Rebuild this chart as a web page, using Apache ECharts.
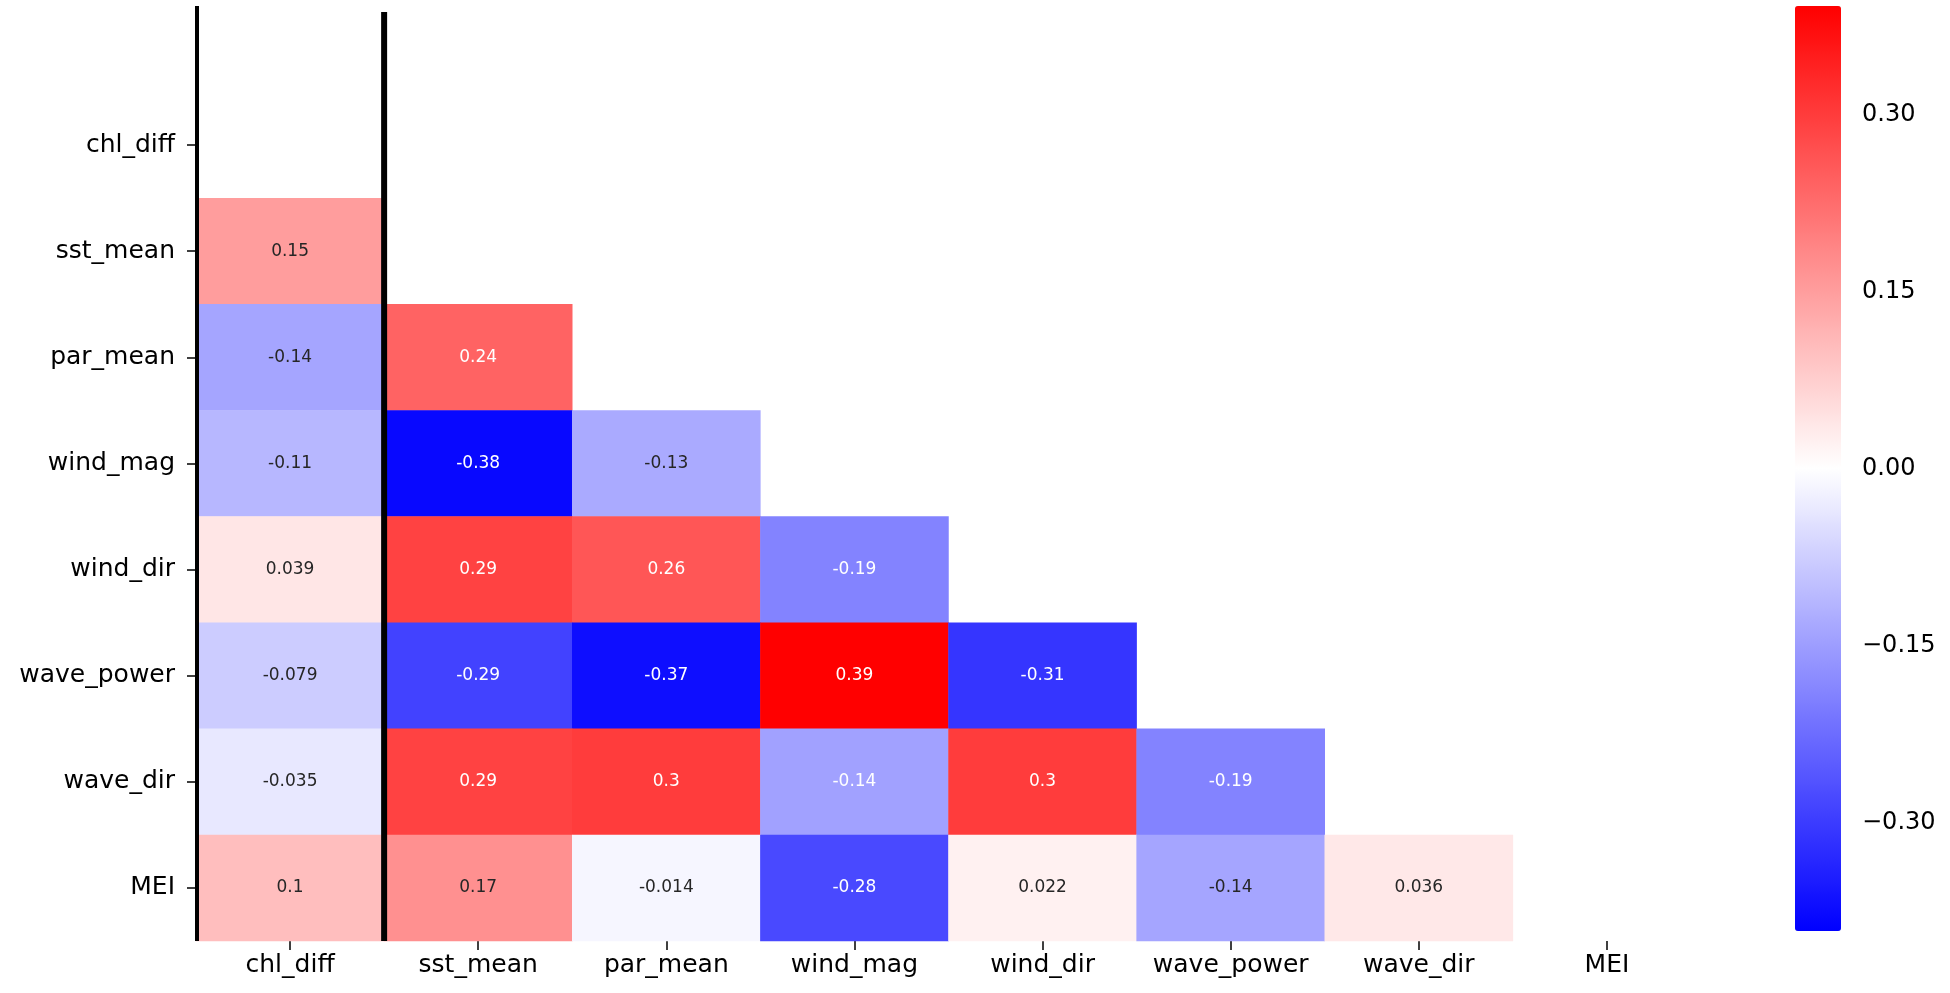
<!DOCTYPE html>
<html><head><meta charset="utf-8">
<script src="https://cdn.jsdelivr.net/npm/echarts@6/dist/echarts.min.js"></script>
<style>html,body{margin:0;padding:0;background:#fff}#c{width:1950px;height:993px}</style>
</head><body><div id="c"></div>
<script>
// ---- data ----
const variables = ['chl_diff','sst_mean','par_mean','wind_mag','wind_dir','wave_power','wave_dir','MEI'];
const row_chl_diff   = [];
const row_sst_mean   = [0.15];
const row_par_mean   = [-0.138, 0.24];
const row_wind_mag   = [-0.11, -0.38, -0.13];
const row_wind_dir   = [0.039, 0.29, 0.26, -0.19];
const row_wave_power = [-0.079, -0.29, -0.37, 0.392, -0.31];
const row_wave_dir   = [-0.035, 0.29, 0.30, -0.144, 0.30, -0.19];
const row_MEI        = [0.10, 0.17, -0.014, -0.28, 0.022, -0.138, 0.036];
const colorbarTicks  = [-0.30, -0.15, 0.00, 0.15, 0.30];
const vmin = -0.392, vmax = 0.392;

const rows = [row_chl_diff,row_sst_mean,row_par_mean,row_wind_mag,row_wind_dir,row_wave_power,row_wave_dir,row_MEI];

// bwr colormap → text colour by luminance (as seaborn does)
function bwr(v){
  const t=(v-vmin)/(vmax-vmin);
  if(t<0.5){const s=t/0.5;return [s,s,1];}
  const s=1-(t-0.5)/0.5;return [1,s,s];
}
function lin(c){return c<=0.03928?c/12.92:Math.pow((c+0.055)/1.055,2.4);}
function textColor(v){
  const [r,g,b]=bwr(v);
  const L=0.2126*lin(r)+0.7152*lin(g)+0.0722*lin(b);
  return L>0.408?'#262626':'#ffffff';
}
function fmt(v){return String(Number(v.toPrecision(2)));}

const data=[];
rows.forEach((vals,r)=>vals.forEach((v,c)=>{
  data.push({value:[c,r,v],label:{color:textColor(v)}});
}));

const FONT='DejaVu Sans';
const chart=echarts.init(document.getElementById('c'),null,{renderer:'canvas'});
chart.setOption({
  backgroundColor:'#ffffff',
  animation:false,
  textStyle:{fontFamily:FONT},
  grid:[
    {left:196,top:92,width:1505,height:849},
    {left:1795,top:6,width:46,height:925}
  ],
  xAxis:[
    {type:'category',gridIndex:0,data:variables,
     axisLine:{show:false},
     axisTick:{show:true,alignWithLabel:true,interval:0,length:9,lineStyle:{color:'#000',width:1.5}},
     axisLabel:{interval:0,fontSize:25,color:'#000',margin:12,fontFamily:FONT},
     splitLine:{show:false},splitArea:{show:false}},
    {type:'value',gridIndex:1,show:false,min:0,max:1}
  ],
  yAxis:[
    {type:'category',gridIndex:0,data:variables,inverse:true,
     axisLine:{show:false},
     axisTick:{show:true,alignWithLabel:true,interval:0,length:9,lineStyle:{color:'#000',width:1.5}},
     axisLabel:{interval:0,fontSize:25,color:'#000',margin:21,fontFamily:FONT},
     splitLine:{show:false},splitArea:{show:false}},
    {type:'value',gridIndex:1,position:'right',min:vmin,max:vmax,
     axisLine:{show:false},splitLine:{show:false},
     axisTick:{show:true,length:9,lineStyle:{color:'#000',width:1.5},customValues:colorbarTicks},
     axisLabel:{show:true,customValues:colorbarTicks,fontSize:24,color:'#000',margin:21,fontFamily:FONT,
       formatter:v=>(v<-1e-9?'\u2212':'')+Math.abs(v).toFixed(2)}}
  ],
  visualMap:{
    type:'continuous',min:vmin,max:vmax,seriesIndex:0,calculable:false,
    orient:'vertical',left:1795,top:6,padding:0,itemWidth:46,itemHeight:925,
    inRange:{color:['#0000ff','#ffffff','#ff0000']},
    text:null,hoverLink:false
  },
  series:[{
    type:'heatmap',xAxisIndex:0,yAxisIndex:0,data:data,
    label:{show:true,fontSize:17,fontFamily:FONT,formatter:p=>fmt(p.value[2])},
    emphasis:{disabled:true},
    itemStyle:{borderWidth:0}
  }]
});

// vertical black divider lines at the category boundaries
const c0=chart.convertToPixel({xAxisIndex:0},'chl_diff');
const c1=chart.convertToPixel({xAxisIndex:0},'sst_mean');
const band=c1-c0;
const leftEdge=c0-band/2, boundary=(c0+c1)/2;
const bottom=chart.convertToPixel({yAxisIndex:0},'MEI')+
  (chart.convertToPixel({yAxisIndex:0},'MEI')-chart.convertToPixel({yAxisIndex:0},'wave_dir'))/2;
chart.setOption({graphic:[
  {type:'line',shape:{x1:leftEdge+1,y1:6,x2:leftEdge+1,y2:bottom},style:{stroke:'#000',lineWidth:4},z:100},
  {type:'line',shape:{x1:boundary,y1:12,x2:boundary,y2:bottom},style:{stroke:'#000',lineWidth:6},z:100}
]});
</script></body></html>
